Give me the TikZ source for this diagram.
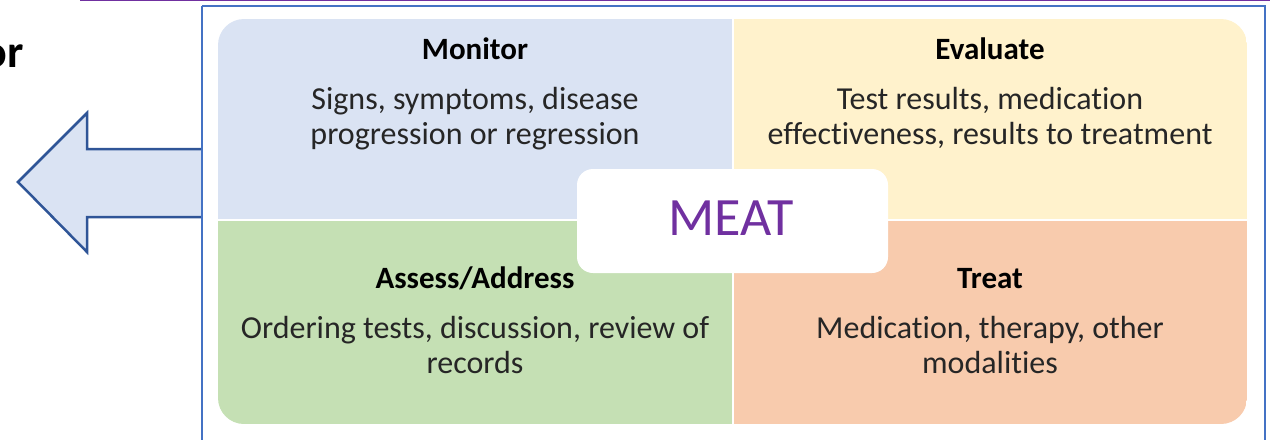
\documentclass[tikz,border=0pt]{standalone}
\usepackage{fontspec}
\setmainfont{Carlito}[Ligatures=NoCommon]
\definecolor{meatpurple}{HTML}{7030A0}
\definecolor{frameblue}{HTML}{4472C4}
\definecolor{arrowline}{HTML}{2F5597}
\definecolor{monfill}{HTML}{DAE3F3}
\definecolor{evalfill}{HTML}{FFF2CC}
\definecolor{assessfill}{HTML}{C5E0B4}
\definecolor{treatfill}{HTML}{F8CBAD}
\definecolor{bodytext}{HTML}{262626}
\begin{document}
\begin{tikzpicture}[x=1pt,y=-1pt,
  quadtitle/.style={anchor=base, inner sep=0pt, text=black,
    font=\fontsize{31}{35}\selectfont\bfseries},
  % a two-line body node is anchored at the baseline of its last line
  quadbody/.style={anchor=base, inner sep=0pt, align=center, text=bodytext,
    font=\fontsize{32}{35}\selectfont},
]
\useasboundingbox (0,0) rectangle (1274,439);

% rule along the top edge
\draw[meatpurple, line width=2.5pt] (80,0) -- (1270,0);

% cut-off heading on the left
\node[anchor=base east, inner sep=0pt, font=\fontsize{46}{50}\selectfont\bfseries] (orword) at (24,67) {or};

% outline box round the grid
\draw[frameblue, line width=2pt] (202,6) -- (1265,6) -- (1265,445);
\draw[frameblue, line width=2pt] (202,6) -- (202,445);

% big arrow pointing left
\draw[arrowline, fill=monfill, line width=2.5pt, line join=miter]
  (201,149) -- (87,149) -- (87,113) -- (18,182) -- (87,252) -- (87,217) -- (201,217);
\draw[frameblue, line width=2pt] (202,100) -- (202,260);

% four coloured quadrants with rounded outer corners
\begin{scope}
  \clip[rounded corners=26pt] (218,19) rectangle (1247,424);
  \fill[monfill]    (218,19)  rectangle (733,220);
  \fill[evalfill]   (733,19)  rectangle (1247,220);
  \fill[assessfill] (218,220) rectangle (733,424);
  \fill[treatfill]  (733,220) rectangle (1247,424);
  \draw[white, line width=1.2pt] (733,19) -- (733,424);
  \draw[white, line width=1.2pt] (218,220) -- (1247,220);
\end{scope}

% quadrant texts
\node[quadtitle] (montitle) at (475,59) {Monitor};
\node[quadbody]  (monbody)  at (475,144) {Signs, symptoms, disease\\progression or regression};
\node[quadtitle] (evaltitle) at (990,59) {Evaluate};
\node[quadbody]  (evalbody)  at (990,144) {Test results, medication\\effectiveness, results to treatment};
\node[quadtitle] (assesstitle) at (475,288) {Assess/Address};
\node[quadbody]  (assessbody)  at (475,373) {Ordering tests, discussion, review of\\records};
\node[quadtitle] (treattitle) at (990,288) {Treat};
\node[quadbody]  (treatbody)  at (990,373) {Medication, therapy, other\\modalities};

% centre label
\fill[white, rounded corners=16pt] (577,169) rectangle (888,273);
\node[anchor=base, inner sep=0pt, text=meatpurple, font=\fontsize{54}{60}\selectfont] (meat) at (731,235) {MEAT};
\end{tikzpicture}
\end{document}
